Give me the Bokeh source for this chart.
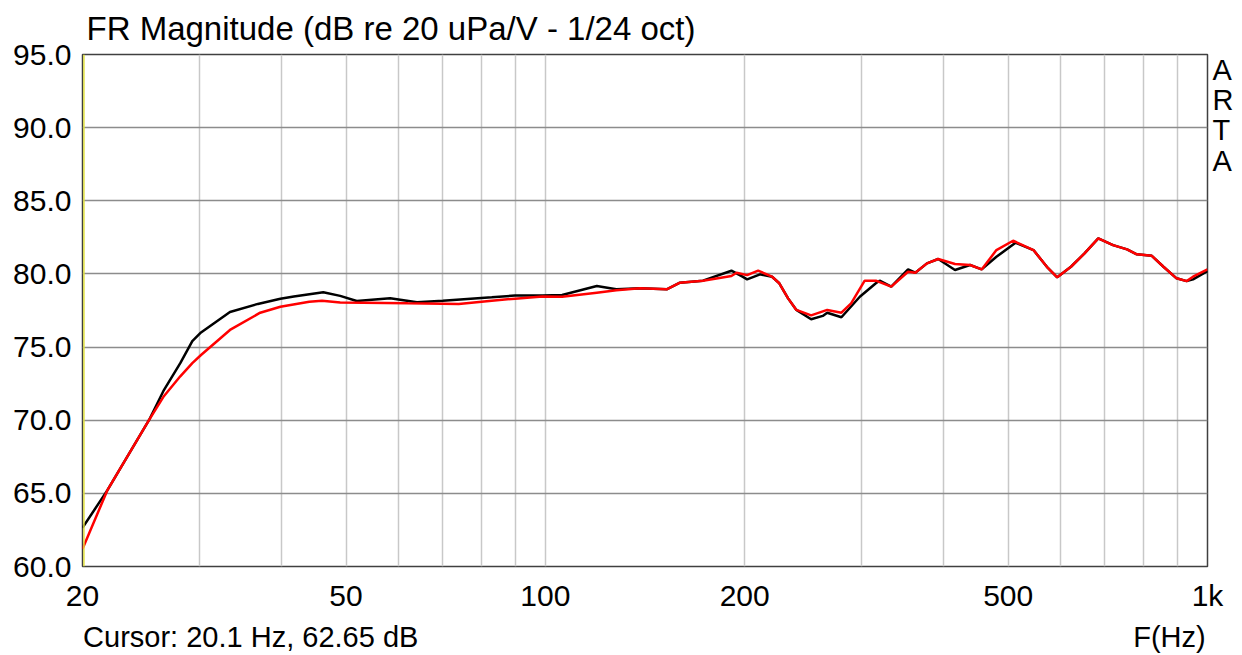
from bokeh.plotting import figure
from bokeh.models import (Range1d, FixedTicker, PrintfTickFormatter, CustomJSTickFormatter,
                          Span, Title, LogAxis, LinearAxis)
from bokeh.embed import file_html
from bokeh.resources import INLINE

# ---- data ----
black_freq = [20.0, 21.8, 25.2, 26.5, 28.1, 29.3, 30.2, 33.4, 36.8, 39.8, 41.7, 46.2, 49.0, 51.9,
              58.3, 64.0, 70.0, 83.0, 90.0, 99.0, 106.0, 119.6, 128.0, 139.0, 152.5, 159.7, 173.0,
              191.0, 198.5, 201.7, 211.0, 220.0, 225.6, 232.6, 239.4, 252.0, 262.4, 266.5, 280.0,
              298.5, 315.6, 319.8, 333.0, 353.0, 362.0, 377.0, 392.0, 415.6, 438.0, 456.0, 480.0,
              513.0, 546.0, 572.0, 593.0, 622.0, 652.0, 684.0, 720.0, 756.0, 782.0, 824.0, 858.0,
              898.0, 930.0, 951.0, 1000.0]
black_db = [62.65, 65.2, 70.0, 72.0, 73.9, 75.4, 76.0, 77.4, 77.95, 78.3, 78.45, 78.75, 78.5, 78.15,
            78.33, 78.06, 78.17, 78.40, 78.52, 78.52, 78.56, 79.17, 78.95, 79.02, 78.95, 79.4, 79.54,
            80.22, 79.81, 79.63, 79.97, 79.81, 79.36, 78.33, 77.54, 76.9, 77.13, 77.35, 77.04,
            78.44, 79.36, 79.54, 79.13, 80.31, 80.08, 80.72, 81.02, 80.27, 80.61, 80.31, 81.17,
            82.13, 81.63, 80.49, 79.77, 80.49, 81.40, 82.43, 81.97, 81.68, 81.34, 81.24, 80.49,
            79.70, 79.51, 79.63, 80.2]

red_freq = [20.0, 21.8, 25.2, 26.5, 28.1, 29.3, 30.2, 33.4, 37.1, 39.8, 44.0, 46.0, 49.0, 62.0,
            74.0, 83.0, 90.0, 99.0, 106.0, 119.6, 128.0, 139.0, 152.5, 159.7, 173.0, 191.0, 194.5,
            201.7, 209.6, 220.0, 225.6, 232.6, 239.4, 252.0, 266.5, 280.0, 289.6, 303.6, 315.6,
            333.0, 353.0, 362.0, 377.0, 392.0, 415.6, 438.0, 456.0, 480.0, 508.6, 546.0, 572.0,
            593.0, 622.0, 652.0, 684.0, 720.0, 756.0, 782.0, 824.0, 858.0, 898.0, 930.0, 951.0,
            1000.0]
red_db = [61.2, 65.2, 70.0, 71.6, 73.0, 73.9, 74.46, 76.17, 77.35, 77.76, 78.1, 78.17, 78.05, 77.99,
          77.95, 78.17, 78.31, 78.45, 78.44, 78.72, 78.88, 79.02, 78.95, 79.4, 79.54, 79.86, 80.08,
          79.92, 80.22, 79.81, 79.36, 78.33, 77.54, 77.17, 77.54, 77.35, 77.99, 79.54, 79.54,
          79.13, 80.15, 80.08, 80.72, 81.02, 80.68, 80.61, 80.31, 81.63, 82.27, 81.63, 80.49,
          79.77, 80.49, 81.40, 82.43, 81.97, 81.68, 81.34, 81.24, 80.49, 79.70, 79.51, 79.81,
          80.31]

x_major_ticks = [20, 50, 100, 200, 500, 1000]
x_minor_ticks = [30, 40, 60, 70, 80, 90, 300, 400, 600, 700, 800, 900]
y_ticks = [60, 65, 70, 75, 80, 85, 90, 95]

title_text = "FR Magnitude (dB re 20 uPa/V - 1/24 oct)"
footer_texts = ["Cursor: 20.1 Hz, 62.65 dB", "F(Hz)"]
brand_letters = ["A", "R", "T", "A"]

FONT = "Liberation Sans"

p = figure(width=1236, height=655, x_axis_type="log",
           x_range=Range1d(20, 1000), y_range=Range1d(60, 95),
           output_backend="svg", toolbar_location=None, title=None,
           min_border_left=82, min_border_right=28, min_border_top=54, min_border_bottom=88)

p.background_fill_color = "white"
p.border_fill_color = "white"
p.outline_line_color = "#404040"
p.outline_line_width = 1.5


def plain_axis(ax, size, standoff):
    ax.axis_line_color = None
    ax.major_tick_line_color = None
    ax.minor_tick_line_color = None
    ax.major_tick_out = 0
    ax.major_tick_in = 0
    ax.minor_tick_out = 0
    ax.minor_tick_in = 0
    ax.major_label_text_font = FONT
    ax.major_label_text_font_size = size
    ax.major_label_text_color = "black"
    ax.major_label_standoff = standoff


# main axes
p.xaxis.ticker = FixedTicker(ticks=x_major_ticks, minor_ticks=x_minor_ticks)
p.xaxis.formatter = CustomJSTickFormatter(code="return tick >= 1000 ? (tick/1000) + 'k' : String(tick);")
p.yaxis.ticker = FixedTicker(ticks=y_ticks)
p.yaxis.formatter = PrintfTickFormatter(format="%.1f")
plain_axis(p.xaxis[0], "30px", 12)
plain_axis(p.yaxis[0], "30px", 11)

# footer row (cursor readout and axis name) as a second, tick-less axis below
footer_axis = LogAxis(ticker=FixedTicker(ticks=[35.9, 876.0]),
                      formatter=CustomJSTickFormatter(args=dict(labels=footer_texts),
                                                      code="return labels[index];"))
plain_axis(footer_axis, "29px", 6)
p.add_layout(footer_axis, "below")

# vertical "ARTA" brand on the right
brand_axis = LinearAxis(ticker=FixedTicker(ticks=[93.94, 91.86, 89.81, 87.70]),
                        formatter=CustomJSTickFormatter(args=dict(labels=brand_letters),
                                                        code="return labels[index];"))
plain_axis(brand_axis, "29px", 5)
p.add_layout(brand_axis, "right")

# title
p.add_layout(Title(text=title_text, align="left", offset=4, standoff=15,
                   text_font=FONT, text_font_size="33px", text_font_style="normal",
                   text_color="black"), "above")

# grid
p.xgrid.ticker = p.xaxis[0].ticker
p.xgrid.grid_line_color = "#c8c8c8"
p.xgrid.grid_line_width = 1.5
p.xgrid.minor_grid_line_color = "#c8c8c8"
p.xgrid.minor_grid_line_width = 1.5
p.ygrid.ticker = p.yaxis[0].ticker
p.ygrid.grid_line_color = "#8c8c8c"
p.ygrid.grid_line_width = 1.5

# cursor line
p.add_layout(Span(location=20.1, dimension="height", line_color="#e0e040", line_width=1.5))

# curves
p.line(black_freq, black_db, line_color="black", line_width=2.5)
p.line(red_freq, red_db, line_color="#ff0000", line_width=2.5)

open("out.html", "w").write(file_html(p, INLINE))
